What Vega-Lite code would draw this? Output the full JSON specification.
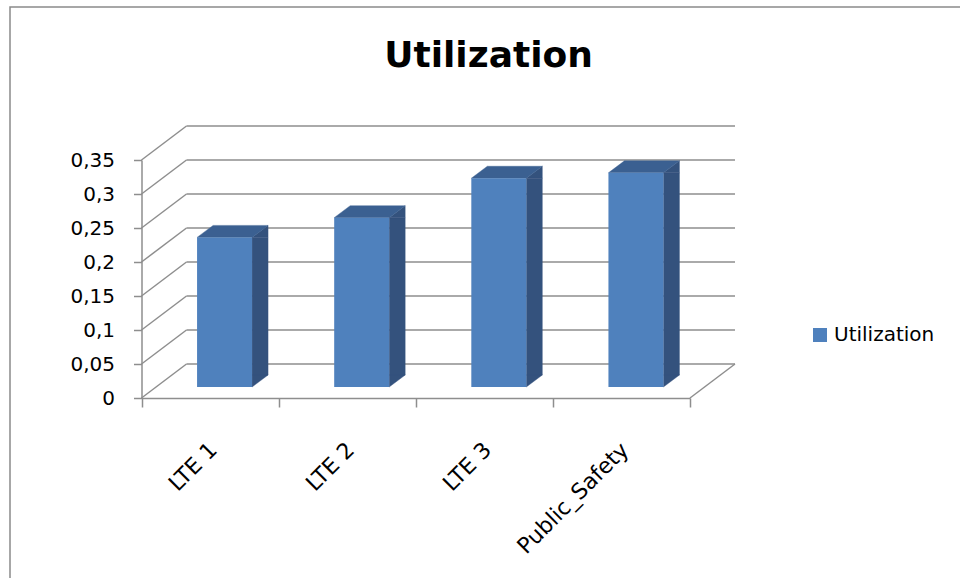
{
  "$schema": "https://vega.github.io/schema/vega-lite/v6.json",
  "width": 956,
  "height": 577,
  "autosize": {"type": "none"},
  "padding": {"left": 10, "top": 7, "right": 0, "bottom": 0},
  "background": "#ffffff",
  "title": {
    "text": "Utilization",
    "font": "DejaVu Sans",
    "fontSize": 36,
    "fontWeight": "bold",
    "color": "#000000",
    "anchor": "start",
    "baseline": "alphabetic",
    "offset": -96,
    "dx": 382
  },
  "datasets": {
    "bars": [
      {"channel": "LTE 1", "utilization": 0.22},
      {"channel": "LTE 2", "utilization": 0.249},
      {"channel": "LTE 3", "utilization": 0.307},
      {"channel": "Public_Safety", "utilization": 0.315}
    ],
    "grid": [
      {"v": 0}, {"v": 0.05}, {"v": 0.1}, {"v": 0.15},
      {"v": 0.2}, {"v": 0.25}, {"v": 0.3}, {"v": 0.35}
    ]
  },
  "resolve": {"scale": {"x": "shared", "y": "shared"}},
  "layer": [
    {
      "description": "back wall gridlines, pushed back by the chart depth",
      "data": {"name": "grid"},
      "mark": {"type": "rule", "color": "#8e8e8e", "strokeWidth": 1.5,
               "xOffset": 45, "x2Offset": 45, "yOffset": -34, "y2Offset": -34},
      "encoding": {
        "x": {"datum": "LTE 1", "type": "nominal", "bandPosition": 0,
              "scale": {"domain": ["LTE 1", "LTE 2", "LTE 3", "Public_Safety"], "range": [131.5, 680], "paddingInner": 0, "paddingOuter": 0},
              "axis": {
                "orient": "bottom", "offset": -186, "title": null,
                "tickBand": "extent", "tickSize": 9, "tickColor": "#8e8e8e", "tickWidth": 1.5,
                "domainColor": "#8e8e8e", "domainWidth": 1.5,
                "labelAngle": -45, "labelAlign": "right", "labelBaseline": "middle",
                "labelPadding": 39, "labelFont": "DejaVu Sans", "labelFontSize": 22,
                "labelColor": "#000000", "labelOverlap": false, "labelBound": false, "labelLimit": 400,
                "labelOffset": 3, "grid": false
              }},
        "x2": {"datum": "Public_Safety", "bandPosition": 1},
        "y": {"field": "v", "type": "quantitative",
              "scale": {"domain": [0, 0.35], "range": [391, 153], "nice": false, "zero": true},
              "axis": {
                "orient": "left", "offset": -131.5, "title": null,
                "values": [0, 0.05, 0.1, 0.15, 0.2, 0.25, 0.3, 0.35],
                "format": ".2~f", "labelExpr": "replace(datum.label, '.', ',')",
                "tickSize": 8, "tickColor": "#8e8e8e", "tickWidth": 1.5,
                "domainColor": "#8e8e8e", "domainWidth": 1.5,
                "labelPadding": 19, "labelFont": "DejaVu Sans", "labelFontSize": 20,
                "labelColor": "#000000", "labelBaseline": "middle", "grid": false
              }}
      }
    },
    {
      "description": "left side wall: depth lines from the front axis to the back wall",
      "data": {"name": "grid"},
      "mark": {"type": "rule", "color": "#8e8e8e", "strokeWidth": 1.5,
               "x2Offset": 45, "y2Offset": -34},
      "encoding": {
        "x": {"datum": "LTE 1", "type": "nominal", "bandPosition": 0},
        "x2": {"datum": "LTE 1", "bandPosition": 0},
        "y": {"field": "v", "type": "quantitative"},
        "y2": {"field": "v"}
      }
    },
    {
      "description": "right edge of the floor",
      "data": {"name": "grid"},
      "transform": [{"filter": "datum.v == 0"}],
      "mark": {"type": "rule", "color": "#8e8e8e", "strokeWidth": 1.5,
               "x2Offset": 45, "y2Offset": -34},
      "encoding": {
        "x": {"datum": "Public_Safety", "type": "nominal", "bandPosition": 1},
        "x2": {"datum": "Public_Safety", "bandPosition": 1},
        "y": {"field": "v", "type": "quantitative"},
        "y2": {"field": "v"}
      }
    },
    {
      "description": "side face of each column (straight part)",
      "data": {"name": "bars"},
      "mark": {"type": "bar", "width": 16, "xOffset": 50, "yOffset": -11, "y2Offset": -23,
               "color": "#34527d", "stroke": "#34527d", "strokeWidth": 0.4},
      "encoding": {
        "x": {"field": "channel", "type": "nominal"},
        "y": {"field": "utilization", "type": "quantitative"},
        "y2": {"datum": 0}
      }
    },
    {
      "description": "side face of each column, bottom corner",
      "data": {"name": "bars"},
      "mark": {"type": "point", "shape": "M 42 -23 L 42 -11 L 58 -23 Z", "size": 4,
               "filled": true, "opacity": 1, "color": "#34527d", "stroke": "#34527d", "strokeWidth": 0.4},
      "encoding": {
        "x": {"field": "channel", "type": "nominal"},
        "y": {"datum": 0, "type": "quantitative"}
      }
    },
    {
      "description": "side face of each column, top corner",
      "data": {"name": "bars"},
      "mark": {"type": "point", "shape": "M 42 -11 L 58 -23 L 58 -11 Z", "size": 4,
               "filled": true, "opacity": 1, "color": "#34527d", "stroke": "#34527d", "strokeWidth": 0.4},
      "encoding": {
        "x": {"field": "channel", "type": "nominal"},
        "y": {"field": "utilization", "type": "quantitative"}
      }
    },
    {
      "description": "top face of each column",
      "data": {"name": "bars"},
      "mark": {"type": "point", "shape": "M -13 -11 L 42 -11 L 58 -23 L 3 -23 Z", "size": 4,
               "filled": true, "opacity": 1, "color": "#3b6091", "stroke": "#3b6091", "strokeWidth": 0.4},
      "encoding": {
        "x": {"field": "channel", "type": "nominal"},
        "y": {"field": "utilization", "type": "quantitative"}
      }
    },
    {
      "description": "front face of each column",
      "data": {"name": "bars"},
      "mark": {"type": "bar", "width": 55, "xOffset": 14.5, "yOffset": -11, "y2Offset": -11},
      "encoding": {
        "x": {"field": "channel", "type": "nominal"},
        "y": {"field": "utilization", "type": "quantitative"},
        "y2": {"datum": 0},
        "color": {
          "datum": "Utilization", "type": "nominal",
          "scale": {"domain": ["Utilization"], "range": ["#4f81bd"]},
          "legend": {
            "orient": "none", "legendX": 800, "legendY": 318, "title": null, "padding": 0,
            "symbolType": "square", "symbolSize": 196, "symbolStrokeWidth": 0,
            "labelFont": "DejaVu Sans", "labelFontSize": 20, "labelColor": "#000000",
            "labelOffset": 4
          }
        }
      }
    }
  ],
  "config": {
    "font": "DejaVu Sans",
    "view": {"stroke": "#8a8a8a", "strokeWidth": 1.5}
  }
}
